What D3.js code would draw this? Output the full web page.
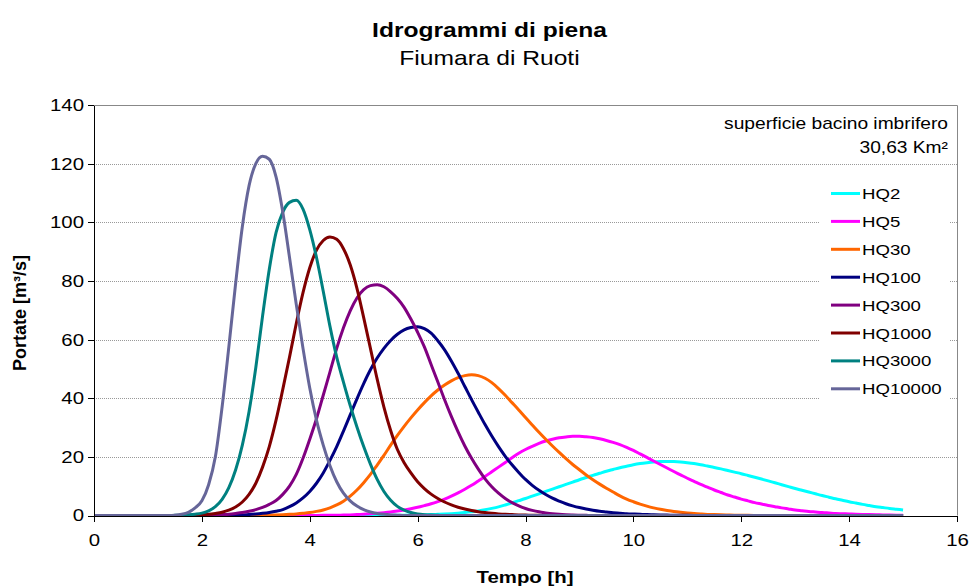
<!DOCTYPE html>
<meta charset="utf-8">
<head>
  <title>Idrogrammi di piena</title>
</head>
<style>
body { margin: 0; background: #fff; }
svg { font-family: "Liberation Sans", Arial, sans-serif; }
.grid line { stroke: #999; stroke-width: 1px; stroke-dasharray: 1,1; }
.frame { fill: none; stroke: #888; stroke-width: 1px; }
.axis path, .axis line { stroke: #000; shape-rendering: crispEdges; }
.axis text { font-size: 17px; fill: #000; font-family: "Liberation Sans", Arial, sans-serif; }
.series { fill: none; stroke-width: 3px; stroke-linejoin: round; }
.legend text { font-size: 15.5px; }
</style>
<body>
  <svg width="970" height="586"></svg>
  <script src="https://cdnjs.cloudflare.com/ajax/libs/d3/7.8.5/d3.min.js"></script>
  <script>
// tempo [h]: one sample every 1/8 hour, 0 .. 15
var hours = d3.range(0, 121).map(function(i) { return i / 8; });

// portate [m3/s], one row per hour (8 samples), last value at 15 h
var hq2 = [
  0,0,0,0,0,0,0,0,
  0,0,0,0,0,0,0,0,
  0,0,0,0,0,0,0,0,
  0,0,0,0,0,0,0,0,
  0,0,0,0,0,0,0,0,
  0.01,0.02,0.03,0.04,0.05,0.07,0.1,0.15,
  0.2,0.25,0.3,0.4,0.5,0.63,0.8,1,
  1.25,1.57,1.95,2.42,2.95,3.6,4.3,5.05,
  5.8,6.6,7.4,8.2,9,9.8,10.6,11.4,
  12.2,12.95,13.7,14.4,15.1,15.7,16.3,16.8,
  17.3,17.7,18,18.25,18.4,18.45,18.4,18.25,
  18,17.7,17.3,16.85,16.4,15.9,15.35,14.8,
  14.25,13.65,13.05,12.43,11.8,11.15,10.5,9.85,
  9.2,8.6,8,7.4,6.8,6.25,5.7,5.2,
  4.7,4.25,3.8,3.4,3,2.7,2.4,2.15,
  1.9
];
var hq5 = [
  0,0,0,0,0,0,0,0,
  0,0,0,0,0,0,0,0,
  0,0,0,0,0,0,0,0,
  0,0,0,0,0,0,0,0,
  0.02,0.03,0.05,0.07,0.1,0.14,0.2,0.3,
  0.45,0.58,0.75,0.95,1.2,1.53,1.9,2.33,
  2.8,3.38,4,4.75,5.6,6.6,7.7,8.95,
  10.3,11.8,13.3,14.9,16.5,18.1,19.7,21.2,
  22.5,23.6,24.6,25.4,26,26.5,26.8,27,
  27,26.85,26.6,26.15,25.6,24.95,24.2,23.25,
  22.2,21,19.8,18.6,17.4,16.2,15,13.85,
  12.7,11.65,10.6,9.65,8.7,7.85,7,6.3,
  5.6,5,4.4,3.9,3.4,3,2.6,2.25,
  1.9,1.65,1.4,1.2,1,0.85,0.7,0.6,
  0.5,0.42,0.35,0.3,0.25,0.2,0.15,0.12,
  0.1
];
var hq30 = [
  0,0,0,0,0,0,0,0,
  0,0,0,0,0,0,0,0,
  0,0,0,0,0,0,0,0,
  0.05,0.08,0.12,0.18,0.27,0.4,0.55,0.75,
  1,1.4,1.9,2.6,3.6,4.9,6.6,8.7,
  11.2,14,17.2,20.5,24,27.3,30.4,33.3,
  36,38.5,40.8,42.8,44.5,45.9,47,47.7,
  48,47.7,46.8,45.3,43.3,41,38.5,36,
  33.4,30.9,28.4,26,23.7,21.5,19.4,17.4,
  15.6,13.8,12.2,10.7,9.3,8,6.7,5.6,
  4.7,3.9,3.2,2.6,2.1,1.7,1.35,1.08,
  0.85,0.65,0.5,0.38,0.3,0.22,0.15,0.11,
  0.08,0.05,0.03,0,0,0,0,0,
  0,0,0,0,0,0,0,0,
  0,0,0,0,0,0,0,0,
  0
];
var hq100 = [
  0,0,0,0,0,0,0,0,
  0,0,0,0,0,0,0,0,
  0,0.02,0.05,0.07,0.1,0.15,0.2,0.3,
  0.5,0.75,1.05,1.45,2,3,4.3,6,
  8.2,11,14.5,18.8,23.5,28.8,34.3,39.8,
  45,49.7,53.7,57,59.7,61.8,63.3,64.1,
  64.4,63.7,62.2,59.6,56.5,52.7,48.5,44,
  39.5,35.2,31,27.1,23.5,20.2,17.3,14.7,
  12.3,10.3,8.6,7.15,5.9,4.9,4,3.3,
  2.7,2.2,1.8,1.45,1.2,0.95,0.8,0.62,
  0.5,0.4,0.3,0.25,0.2,0.15,0.1,0.07,
  0.05,0.03,0,0,0,0,0,0,
  0,0,0,0,0,0,0,0,
  0,0,0,0,0,0,0,0,
  0,0,0,0,0,0,0,0,
  0
];
var hq300 = [
  0,0,0,0,0,0,0,0,
  0,0,0,0,0,0,0,0,
  0.05,0.1,0.18,0.3,0.45,0.7,1,1.45,
  2,2.75,3.8,5.1,7.2,10,14,19.5,
  26,33,41,49,57,64,69.8,74.2,
  77,78.4,78.7,78,76.3,74,71,67,
  62.5,57.5,51.5,45.5,39.5,33.8,28.5,23.7,
  19.5,15.8,12.5,9.8,7.6,5.8,4.4,3.3,
  2.4,1.75,1.25,0.9,0.6,0.4,0.27,0.18,
  0.1,0.05,0,0,0,0,0,0,
  0,0,0,0,0,0,0,0,
  0,0,0,0,0,0,0,0,
  0,0,0,0,0,0,0,0,
  0,0,0,0,0,0,0,0,
  0,0,0,0,0,0,0,0,
  0
];
var hq1000 = [
  0,0,0,0,0,0,0,0,
  0,0,0,0,0,0,0.05,0.15,
  0.25,0.4,0.7,1.1,1.8,2.9,4.6,7.2,
  11,16.5,23.5,32.5,43,54,65.5,76,
  84.5,90.5,93.8,95,94.2,91,85.5,77.5,
  67.5,57,46.5,37,29,22.5,18,14.5,
  11.5,9.2,7.3,5.8,4.6,3.6,2.8,2.2,
  1.7,1.3,1,0.75,0.55,0.4,0.3,0.2,
  0.15,0.1,0.05,0,0,0,0,0,
  0,0,0,0,0,0,0,0,
  0,0,0,0,0,0,0,0,
  0,0,0,0,0,0,0,0,
  0,0,0,0,0,0,0,0,
  0,0,0,0,0,0,0,0,
  0,0,0,0,0,0,0,0,
  0
];
var hq3000 = [
  0,0,0,0,0,0,0,0,
  0,0,0,0,0.05,0.12,0.25,0.45,
  0.8,1.6,3,5.5,9.5,15.5,24,35.5,
  50.5,68,84,96.5,103.5,106.8,107.5,104.5,
  97.5,88,76.5,64.5,54,45.5,37.5,30.2,
  23.5,17.5,12.3,8.2,5.2,3.1,1.8,1,
  0.55,0.3,0.15,0.07,0,0,0,0,
  0,0,0,0,0,0,0,0,
  0,0,0,0,0,0,0,0,
  0,0,0,0,0,0,0,0,
  0,0,0,0,0,0,0,0,
  0,0,0,0,0,0,0,0,
  0,0,0,0,0,0,0,0,
  0,0,0,0,0,0,0,0,
  0,0,0,0,0,0,0,0,
  0
];
var hq10000 = [
  0,0,0,0,0,0,0,0,
  0,0,0,0,0.1,0.4,1.1,2.6,
  5,10.5,20,37,57.5,79,98.5,112.5,
  120,122.5,121.5,115.5,103.5,88,72,57,
  43.5,32.5,24,17,11.5,7.6,5,3.2,
  2,1.2,0.7,0.4,0.2,0.1,0,0,
  0,0,0,0,0,0,0,0,
  0,0,0,0,0,0,0,0,
  0,0,0,0,0,0,0,0,
  0,0,0,0,0,0,0,0,
  0,0,0,0,0,0,0,0,
  0,0,0,0,0,0,0,0,
  0,0,0,0,0,0,0,0,
  0,0,0,0,0,0,0,0,
  0,0,0,0,0,0,0,0,
  0
];

var seriesNames = ['HQ2', 'HQ5', 'HQ30', 'HQ100', 'HQ300', 'HQ1000', 'HQ3000', 'HQ10000'];
var seriesValues = [hq2, hq5, hq30, hq100, hq300, hq1000, hq3000, hq10000];
var seriesColors = ['#00FFFF', '#FF00FF', '#FF6600', '#000080', '#800080', '#800000', '#008080', '#666699'];

var xTicks = [0, 2, 4, 6, 8, 10, 12, 14, 16];
var yTicks = [0, 20, 40, 60, 80, 100, 120, 140];

// the original picture's lettering is a little wide
var SX = 1.2;

var svg = d3.select('svg');

var x = d3.scaleLinear().domain([0, 16]).range([94, 957]);
var y = d3.scaleLinear().domain([0, 140]).range([515.5, 105]);

function label(px, py, txt, size, bold, anchor) {
  return svg.append('text')
    .attr('transform', 'translate(' + px + ',' + py + ') scale(' + SX + ',1)')
    .attr('text-anchor', anchor || 'middle')
    .style('font-size', size + 'px')
    .style('font-weight', bold ? 'bold' : 'normal')
    .text(txt);
}

// titles
label(489.5, 36.5, 'Idrogrammi di piena', 20.5, true);
label(489.5, 64.5, 'Fiumara di Ruoti', 20.5, false);

// gridlines
svg.append('g').attr('class', 'grid')
  .selectAll('line')
  .data(yTicks.filter(function(d) { return d > 0 && d < 140; }))
  .enter().append('line')
  .attr('x1', x(0)).attr('x2', x(16))
  .attr('y1', function(d) { return Math.round(y(d)) + 0.5; })
  .attr('y2', function(d) { return Math.round(y(d)) + 0.5; });

// frame top / right
svg.append('path').attr('class', 'frame')
  .attr('d', 'M' + x(0) + ',' + (y(140) + 0.5) + 'H' + (x(16) + 0.5) + 'V' + y(0));

// legend box (covers gridlines)
var legend = svg.append('g').attr('class', 'legend');
legend.append('rect')
  .attr('x', 819).attr('y', 176).attr('width', 130).attr('height', 228)
  .attr('fill', '#fff');

// series
var line = d3.line()
  .x(function(d, i) { return x(hours[i]); })
  .y(function(d) { return y(d); })
  .curve(d3.curveMonotoneX);

svg.append('g').selectAll('path')
  .data(seriesValues)
  .enter().append('path')
  .attr('class', 'series')
  .attr('stroke', function(d, i) { return seriesColors[i]; })
  .attr('d', line);

// axes
var yAxis = svg.append('g').attr('class', 'axis')
  .attr('transform', 'translate(' + x(0) + ',0)')
  .call(d3.axisLeft(y).tickValues(yTicks).tickSize(6).tickSizeOuter(0).tickPadding(4));
yAxis.selectAll('text')
  .attr('x', -10 / SX)
  .attr('transform', 'scale(' + SX + ',1)');

var xAxis = svg.append('g').attr('class', 'axis')
  .attr('transform', 'translate(0,' + y(0) + ')')
  .call(d3.axisBottom(x).tickValues(xTicks).tickSize(6).tickSizeOuter(0).tickPadding(12));
xAxis.selectAll('text')
  .attr('transform', 'scale(' + SX + ',1)');

// axis titles
svg.append('text')
  .attr('transform', 'translate(26,313) rotate(-90)')
  .attr('text-anchor', 'middle')
  .style('font-size', '18px').style('font-weight', 'bold')
  .text('Portate [m³/s]');
label(525, 583, 'Tempo [h]', 17, true);

// note
label(948, 129, 'superficie bacino imbrifero', 16, false, 'end');
label(948, 153, '30,63 Km²', 16, false, 'end');

// legend entries
var item = legend.selectAll('g.item')
  .data(seriesNames)
  .enter().append('g')
  .attr('class', 'item')
  .attr('transform', function(d, i) { return 'translate(831,' + (193.5 + i * 27.9) + ')'; });
item.append('line')
  .attr('x1', 0).attr('x2', 29)
  .attr('stroke-width', 3)
  .attr('stroke', function(d, i) { return seriesColors[i]; });
item.append('text')
  .attr('transform', 'translate(31,0) scale(' + SX + ',1)')
  .attr('dy', '0.36em')
  .text(function(d) { return d; });
  </script>
</body>
